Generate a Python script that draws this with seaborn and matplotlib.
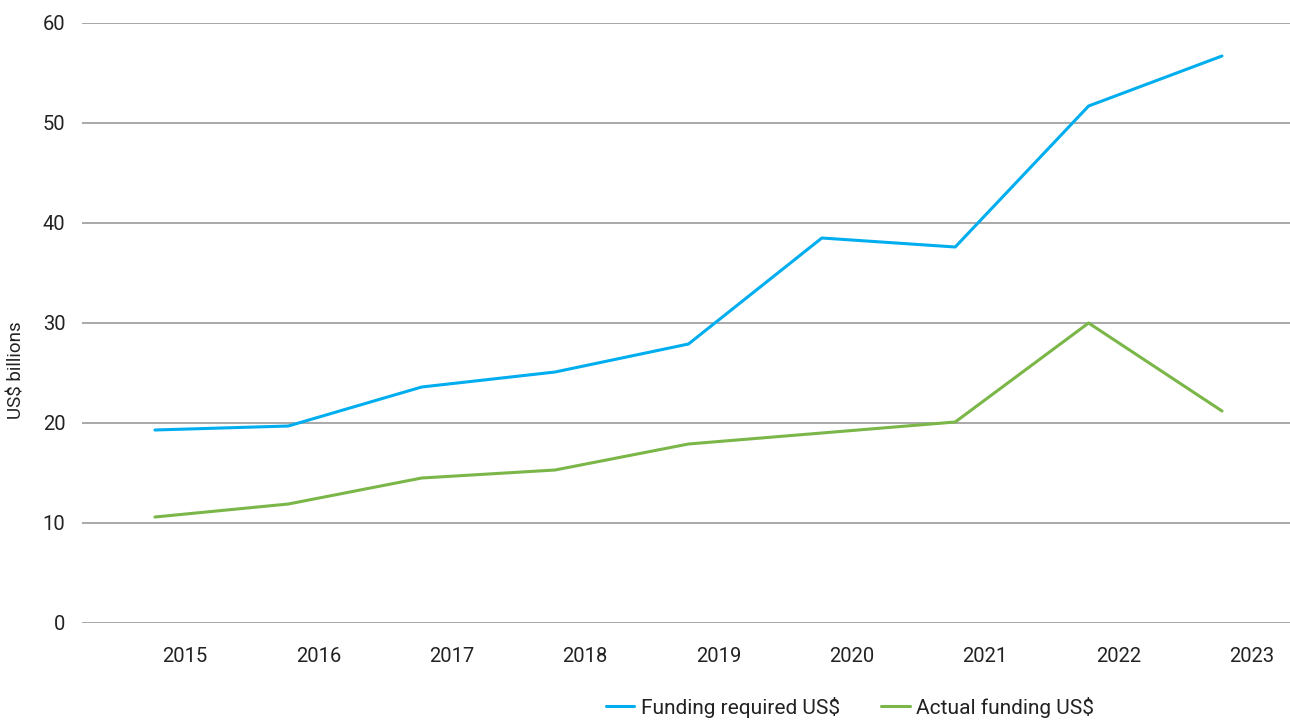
import pandas as pd
import matplotlib.pyplot as plt
import seaborn as sns

years = ['2015', '2016', '2017', '2018', '2019', '2020', '2021', '2022', '2023']
funding_required = [19.3, 19.7, 23.6, 25.1, 27.9, 38.5, 37.6, 51.7, 56.7]
actual_funding = [10.6, 11.9, 14.5, 15.3, 17.9, 19.0, 20.1, 30.0, 21.2]
series_names = ['Funding required US$', 'Actual funding US$']
colors = ['#00AEEF', '#7AB648']


def build_frame():
    """Long-form table for seaborn."""
    rows = []
    for i, yr in enumerate(years):
        rows.append({'pos': i, 'year': yr, 'value': funding_required[i],
                     'series': series_names[0]})
        rows.append({'pos': i, 'year': yr, 'value': actual_funding[i],
                     'series': series_names[1]})
    return pd.DataFrame(rows)


def main():
    sns.set_style('white')
    plt.rcParams['font.family'] = ['Roboto', 'DejaVu Sans']
    text_color = '#222222'

    data = build_frame()

    fig = plt.figure(figsize=(12.9, 7.2), dpi=100)
    ax = fig.add_axes([82 / 1290, 1 - 623 / 720, 1 - 82 / 1290, 600 / 720])

    sns.lineplot(data=data, x='pos', y='value', hue='series',
                 palette=colors, linewidth=2.2, ax=ax, legend=False)

    ax.set_xlim(-0.547, 8.51)
    ax.set_ylim(0, 60)
    ax.set_yticks(range(0, 61, 10))
    ax.yaxis.grid(True, color='#9a9a9a', linewidth=1.2)
    ax.set_axisbelow(True)
    for s in ax.spines.values():
        s.set_visible(False)
    ax.tick_params(axis='y', length=0, pad=12, labelsize=14.5,
                   labelcolor=text_color)
    ax.set_xticks([])
    ax.set_xlabel('')
    ax.set_ylabel('')

    # year labels sit a little right of the data points
    for i, yr in enumerate(years):
        ax.text(i + 0.225, -3.3, yr, ha='center', va='center', fontsize=14.5,
                color=text_color, transform=ax.transData)

    fig.text(17 / 1290, 1 - 370 / 720, 'US$ billions', rotation=90,
             ha='center', va='center', fontsize=13.5, color=text_color)

    handles = [plt.Line2D([], [], color=c, linewidth=2.2) for c in colors]
    fig.legend(handles, series_names, loc='center',
               bbox_to_anchor=(850 / 1290, 1 - 707 / 720), ncol=2,
               frameon=False, fontsize=15, handlelength=1.35,
               handletextpad=0.3, columnspacing=2.0, labelcolor=text_color)

    fig.savefig('out.png', dpi=100)


if __name__ == '__main__':
    main()
